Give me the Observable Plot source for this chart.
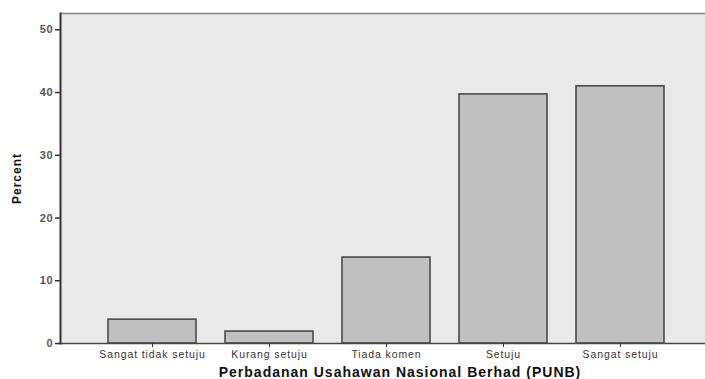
<!DOCTYPE html>
<html><head><meta charset="utf-8">
<script src="https://cdn.jsdelivr.net/npm/d3@7"></script>
<script src="https://cdn.jsdelivr.net/npm/@observablehq/plot@0.6"></script>
<style>
body{margin:0;background:#fff;}
svg{font-family:"Liberation Sans",Arial,sans-serif;}
g[aria-label="x-axis tick label"] text{letter-spacing:0.9px;}
g[aria-label="y-axis tick label"] text{letter-spacing:0.8px;}
g[aria-label="text"] text{letter-spacing:1px;}
</style></head>
<body><div id="chart"></div>
<script>
const categories = ["Sangat tidak setuju","Kurang setuju","Tiada komen","Setuju","Sangat setuju"];
const percents = [3.8, 1.9, 13.7, 39.7, 41.0];
const yTicks = [0,10,20,30,40,50];
const xTitle = "Perbadanan Usahawan Nasional Berhad (PUNB)";
const yTitle = "Percent";

const data = categories.map((c,i)=>({cat:c, pct:percents[i]}));

const chart = Plot.plot({
  width: 705, height: 379,
  marginLeft: 60, marginRight: 0, marginTop: 13, marginBottom: 36,
  style: {fontFamily: '"Liberation Sans", Arial, sans-serif', fontSize: "10px", color: "#333", background: "#fff"},
  x: {domain: categories, range: [77.7, 693.3], padding: 0.25, align: 0.5, label: null},
  y: {domain: [0, 52.6], label: null},
  marks: [
    Plot.frame({fill: "#e9e9e9", stroke: null}),
    Plot.barY(data, {x: "cat", y: "pct", fill: "#c0c0c0", stroke: "#4a4a4a", strokeWidth: 1.6}),
    Plot.ruleY([52.6], {stroke: "#888", strokeWidth: 1.5}),
    Plot.ruleY([0], {stroke: "#444", strokeWidth: 1.5}),
    Plot.axisY({ticks: yTicks, tickSize: 5, tickPadding: 2, tickFormat: d=>d, fontSize: 11, fontWeight: "bold", fill: "#555", stroke: "#333", strokeWidth: 1.5, label: null}),
    Plot.axisX({tickSize: 4, tickPadding: 3, fontSize: 10.5, stroke: "#333", label: null}),
    Plot.frame({anchor: "left", stroke: "#333", strokeWidth: 2}),
    Plot.text([xTitle], {frameAnchor: "bottom", dy: 33, dx: 17, textAnchor: "middle", fontWeight: "bold", fontSize: 14, fill: "#111"}),
    Plot.text([yTitle], {frameAnchor: "left", dx: -43, textAnchor: "middle", rotate: -90, fontWeight: "bold", fontSize: 12, fill: "#111"})
  ]
});
document.getElementById("chart").appendChild(chart);
</script></body></html>
